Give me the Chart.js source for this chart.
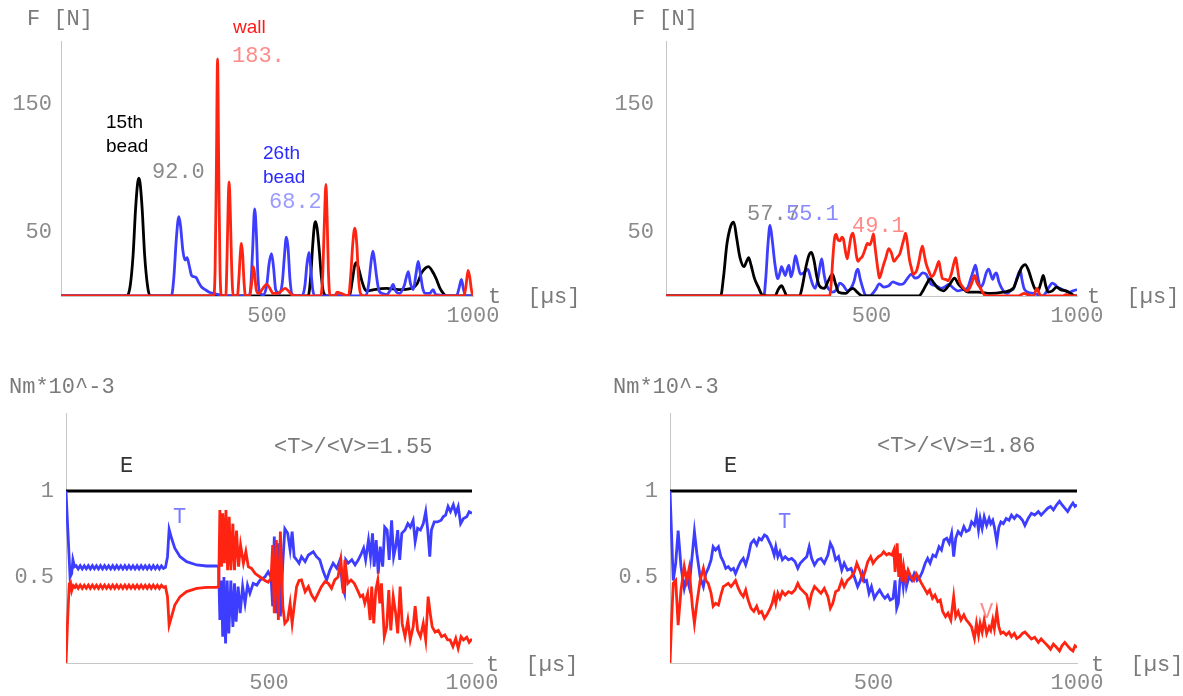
<!DOCTYPE html>
<html>
<head>
<meta charset="utf-8">
<script src="https://cdn.jsdelivr.net/npm/chart.js@4.4.1/dist/chart.umd.min.js"></script>
<style>
html, body { margin:0; padding:0; background:#fff; width:1183px; height:696px; overflow:hidden; }
canvas { position:absolute; }
</style>
</head>
<body>
<canvas id="tl" width="590" height="340" style="left:0;top:0"></canvas>
<canvas id="tr" width="593" height="340" style="left:590px;top:0"></canvas>
<canvas id="bl" width="590" height="356" style="left:0;top:340px"></canvas>
<canvas id="br" width="593" height="356" style="left:590px;top:340px"></canvas>
<script>
// tick values ==================================================================================
const tickT = [500, 1000]
const tickF = [50, 150]
const tickE = [0.5, 1]

// top left : forces, [t us, F N] ===============================================================
const wallA = [[0,0],[370,0],[374,20],[377,95],[380,185],[383,95],[386,20],[390,0],[400,0],[403,30],[406,75],[408,89],[411,65],[414,25],[418,0],[428,0],[432,15],[435,32],[438,41],[441,32],[444,12],[448,0],[458,0],[462,8],[465,18],[467,23],[470,17],[474,5],[480,2],[490,6],[499,9],[507,6],[515,2],[525,2],[535,4],[544,6],[552,4],[560,1],[575,0],[630,0],[635,15],[639,55],[643,87],[646,60],[649,20],[653,0],[665,0],[670,3],[680,2],[698,0],[703,15],[708,40],[713,53],[718,40],[722,15],[727,2],[735,0],[978,0],[983,8],[988,20],[992,15],[996,5],[1000,0]]
const bead15A = [[0,0],[160,0],[168,8],[175,32],[181,68],[186,88],[189,92],[192,88],[197,68],[203,32],[210,8],[216,0],[600,0],[606,15],[611,40],[615,55],[618,58],[622,52],[627,35],[632,15],[637,3],[645,0],[700,0],[707,12],[713,24],[717,26],[722,22],[730,12],[738,5],[745,4],[760,5],[790,6],[820,5],[850,6],[865,10],[875,18],[885,22],[892,23],[900,20],[910,14],[920,6],[928,2],[935,0],[1000,0]]
const bead26A = [[0,0],[268,0],[274,15],[280,45],[286,62],[290,55],[296,35],[301,28],[306,30],[311,24],[317,16],[323,15],[329,14],[335,10],[341,7],[350,5],[360,3],[370,2],[385,1],[400,0],[455,0],[460,5],[465,35],[470,68],[474,50],[478,15],[483,2],[492,1],[500,10],[505,25],[511,33],[516,22],[521,5],[530,2],[537,10],[542,30],[547,46],[551,38],[556,12],[562,1],[585,0],[592,8],[597,25],[602,34],[606,22],[611,5],[616,0],[740,0],[747,10],[752,25],[757,35],[761,28],[766,15],[772,4],[780,2],[790,1],[800,5],[806,9],[812,4],[822,2],[833,8],[843,19],[848,10],[855,5],[862,18],[867,27],[872,18],[878,6],[885,2],[895,2],[903,5],[910,1],[960,0],[966,6],[972,13],[977,5],[983,0],[1000,0]]

// top right : forces, [t us, F N] ==============================================================
const wallB = [[0,0],[398,0],[402,10],[406,30],[410,45],[414,48],[418,44],[423,43],[428,46],[432,44],[436,36],[441,29],[445,36],[450,46],[455,49],[460,40],[463,32],[467,27],[472,29],[478,31],[484,36],[490,41],[496,40],[501,44],[505,48.5],[508,40],[511,32],[515,22],[519,14],[523,17],[528,23],[535,30],[542,37],[548,34],[555,27],[562,30],[569,33],[575,40],[580,46],[583,49],[587,42],[592,29],[597,22],[601,17],[606,18],[610,20],[616,28],[620,35],[624,39],[628,33],[633,25],[640,19],[646,15],[652,17],[658,22],[664,27],[668,20],[673,13.5],[680,13],[687,12],[694,17],[700,25],[705,30],[709,22],[714,12],[722,7],[733,4],[740,7],[746,12],[751,16],[756,11],[765,6],[772,2],[778,0],[857,0],[864,1],[871,2],[880,1],[894,0],[898,3],[903,6],[908,2],[912,0],[965,0],[973,1],[985,0],[1000,0]]
const bead15B = [[0,0],[133,0],[140,15],[148,40],[158,55],[165,57.7],[172,45],[180,30],[190,23],[196,27],[201,30],[207,24],[215,14],[226,6],[234,1],[265,0],[273,5],[281,8],[288,4],[294,0],[325,0],[332,8],[340,22],[348,32],[354,34],[360,28],[367,15],[373,8],[385,6],[395,12],[405,17],[412,10],[420,3],[437,2],[448,5],[455,6],[465,3],[478,0],[615,0],[625,4],[635,10],[643,13.5],[652,10],[662,6],[675,4],[690,9],[702,14],[712,9],[722,6],[735,3],[760,3],[790,2],[820,3],[845,6],[855,14],[865,22],[874,24.5],[882,20],[890,12],[897,6],[905,4],[912,10],[918,16],[924,8],[930,3],[940,4],[950,7],[960,5],[973,4],[985,2],[996,0],[1000,0]]
const bead26B = [[0,0],[238,0],[243,15],[248,40],[253,55],[258,45],[265,25],[272,13.5],[277,18],[281,23],[286,19],[290,16],[295,21],[299,24],[304,15],[309,20],[315,31.5],[321,24],[327,17],[335,18],[345,21],[352,14],[358,8],[363,6],[370,14],[375,24],[379,29],[384,18],[390,9],[397,5],[405,3],[415,5],[423,10],[432,8],[441,4],[450,6],[458,12],[463,19],[467,21],[472,14],[478,7],[483,2],[487,0],[495,0],[500,1],[510,5],[519,9.5],[530,7],[542,8],[552,11],[560,10],[570,9],[579,10],[588,14],[597,17],[606,14],[615,15],[624,18],[633,17],[640,12],[646,9],[657,8],[669,6],[678,7],[688,9],[700,6],[710,4],[722,5],[733,6],[742,14],[748,20],[753,24],[758,16],[765,7],[772,10],[779,18],[785,21],[790,17],[795,13],[800,17],[804,18],[810,11],[817,6],[824,3],[831,2],[838,4],[846,6],[852,12],[857,17],[862,20],[866,13],[871,6],[880,3],[894,2],[905,1],[917,0],[925,3],[932,7],[940,10],[946,9],[952,7],[958,6],[965,5],[972,4],[981,3],[990,4],[1000,5]]

// bottom : energies, [t us, Nm*10^-3] ==========================================================
const energyE = [[0,1],[1000,1]]
const kinA = [[0,1],[5,0.75],[10,0.5],[14,0.52],[17,0.6],[21,0.56],[25,0.566],[30,0.547],[35,0.566],[40,0.547],[45,0.565],[50,0.548],[55,0.566],[60,0.547],[65,0.566],[70,0.548],[75,0.565],[80,0.547],[85,0.566],[90,0.547],[95,0.566],[100,0.548],[105,0.565],[110,0.547],[115,0.566],[120,0.547],[125,0.566],[130,0.548],[135,0.565],[140,0.547],[145,0.566],[150,0.547],[155,0.566],[160,0.548],[165,0.565],[170,0.547],[175,0.566],[180,0.547],[185,0.566],[190,0.548],[195,0.565],[200,0.547],[205,0.566],[210,0.547],[215,0.566],[220,0.548],[225,0.565],[230,0.547],[235,0.565],[240,0.55],[245,0.556],[250,0.618],[254,0.777],[260,0.725],[268,0.667],[281,0.618],[297,0.589],[322,0.57],[346,0.564],[371,0.564],[376,0.56],[379,0.25],[383,0.48],[386,0.153],[389,0.5],[393,0.114],[397,0.48],[401,0.172],[406,0.48],[411,0.21],[415,0.463],[419,0.24],[424,0.444],[429,0.29],[435,0.444],[441,0.347],[447,0.453],[453,0.405],[461,0.463],[470,0.453],[478,0.483],[490,0.5],[498,0.53],[505,0.5],[509,0.33],[513,0.735],[518,0.29],[523,0.696],[528,0.27],[534,0.58],[539,0.78],[546,0.754],[552,0.657],[557,0.764],[562,0.618],[568,0.6],[574,0.58],[580,0.618],[589,0.59],[597,0.628],[609,0.647],[617,0.618],[625,0.6],[634,0.53],[642,0.483],[650,0.54],[658,0.58],[667,0.55],[675,0.6],[681,0.444],[686,0.405],[689,0.6],[695,0.58],[704,0.6],[712,0.57],[720,0.6],[726,0.628],[733,0.667],[738,0.6],[745,0.715],[750,0.618],[755,0.754],[759,0.56],[764,0.715],[769,0.52],[774,0.676],[780,0.56],[785,0.79],[791,0.773],[796,0.6],[802,0.83],[807,0.618],[812,0.676],[817,0.773],[822,0.6],[827,0.754],[835,0.773],[842,0.81],[848,0.79],[855,0.83],[860,0.705],[866,0.783],[873,0.773],[880,0.81],[886,0.88],[891,0.773],[896,0.618],[900,0.773],[907,0.82],[915,0.82],[924,0.83],[929,0.85],[935,0.86],[941,0.91],[947,0.88],[954,0.92],[960,0.87],[966,0.91],[972,0.81],[979,0.84],[987,0.85],[993,0.88],[1000,0.87]]
const potA = [[0,0],[4,0.25],[8,0.46],[11,0.47],[14,0.42],[18,0.45],[22,0.44],[25,0.453],[30,0.434],[35,0.453],[40,0.434],[45,0.452],[50,0.435],[55,0.453],[60,0.434],[65,0.453],[70,0.435],[75,0.452],[80,0.434],[85,0.453],[90,0.434],[95,0.453],[100,0.435],[105,0.452],[110,0.434],[115,0.453],[120,0.434],[125,0.453],[130,0.435],[135,0.452],[140,0.434],[145,0.453],[150,0.434],[155,0.453],[160,0.435],[165,0.452],[170,0.434],[175,0.453],[180,0.434],[185,0.453],[190,0.435],[195,0.452],[200,0.434],[205,0.453],[210,0.434],[215,0.453],[220,0.435],[225,0.452],[230,0.434],[235,0.452],[240,0.44],[245,0.444],[250,0.386],[254,0.22],[260,0.27],[268,0.337],[281,0.386],[297,0.415],[322,0.434],[346,0.44],[371,0.44],[376,0.444],[379,0.89],[383,0.56],[386,0.87],[390,0.58],[394,0.89],[398,0.54],[402,0.85],[406,0.54],[411,0.81],[415,0.54],[420,0.77],[425,0.56],[430,0.686],[437,0.58],[443,0.647],[449,0.56],[457,0.55],[466,0.52],[478,0.5],[490,0.48],[498,0.47],[505,0.49],[509,0.686],[513,0.29],[518,0.715],[523,0.25],[528,0.764],[534,0.33],[539,0.23],[546,0.25],[552,0.347],[557,0.23],[562,0.33],[568,0.444],[574,0.48],[580,0.483],[589,0.415],[597,0.444],[605,0.395],[613,0.366],[621,0.405],[629,0.444],[638,0.473],[646,0.463],[654,0.434],[662,0.483],[670,0.5],[677,0.6],[683,0.405],[687,0.6],[694,0.463],[702,0.483],[710,0.463],[718,0.424],[725,0.386],[731,0.395],[736,0.347],[743,0.405],[749,0.25],[753,0.444],[758,0.23],[763,0.424],[768,0.483],[773,0.347],[777,0.463],[784,0.153],[790,0.21],[795,0.424],[800,0.19],[806,0.386],[812,0.29],[817,0.172],[823,0.444],[828,0.23],[835,0.153],[842,0.25],[848,0.134],[855,0.21],[860,0.33],[866,0.19],[873,0.153],[880,0.23],[886,0.134],[892,0.386],[897,0.29],[902,0.21],[909,0.18],[917,0.19],[925,0.153],[933,0.163],[940,0.134],[946,0.134],[953,0.095],[960,0.143],[966,0.085],[973,0.153],[979,0.134],[987,0.15],[993,0.12],[1000,0.14]]
const kinB = [[0,1],[8,0.48],[14,0.58],[20,0.77],[27,0.56],[35,0.434],[41,0.5],[47,0.444],[55,0.637],[60,0.764],[66,0.637],[74,0.5],[82,0.444],[88,0.52],[94,0.55],[101,0.6],[106,0.676],[112,0.657],[119,0.676],[125,0.618],[131,0.59],[137,0.55],[143,0.56],[150,0.54],[156,0.55],[161,0.52],[168,0.56],[174,0.59],[180,0.608],[186,0.57],[192,0.618],[199,0.696],[206,0.715],[213,0.686],[219,0.725],[225,0.715],[232,0.744],[238,0.735],[246,0.696],[251,0.667],[256,0.628],[260,0.676],[265,0.618],[270,0.647],[276,0.6],[283,0.618],[291,0.6],[299,0.608],[307,0.59],[314,0.55],[320,0.58],[328,0.6],[336,0.618],[342,0.676],[348,0.608],[355,0.57],[363,0.6],[371,0.608],[379,0.58],[388,0.628],[394,0.696],[400,0.667],[407,0.6],[414,0.618],[422,0.54],[428,0.58],[436,0.54],[445,0.55],[453,0.5],[461,0.444],[468,0.48],[473,0.52],[478,0.473],[483,0.48],[489,0.405],[495,0.444],[502,0.376],[509,0.405],[515,0.424],[522,0.395],[528,0.376],[535,0.395],[541,0.366],[548,0.376],[553,0.48],[557,0.318],[561,0.347],[565,0.48],[569,0.52],[573,0.444],[577,0.54],[581,0.444],[587,0.5],[594,0.48],[600,0.52],[607,0.48],[614,0.5],[620,0.53],[627,0.58],[633,0.608],[639,0.58],[646,0.628],[653,0.618],[661,0.676],[667,0.657],[673,0.715],[680,0.725],[686,0.696],[692,0.754],[697,0.618],[702,0.725],[708,0.764],[715,0.744],[722,0.793],[728,0.764],[735,0.773],[741,0.82],[748,0.8],[753,0.86],[758,0.773],[762,0.84],[767,0.783],[772,0.85],[778,0.8],[784,0.84],[788,0.81],[793,0.83],[797,0.79],[803,0.705],[808,0.79],[813,0.82],[819,0.81],[826,0.84],[833,0.83],[839,0.86],[846,0.84],[852,0.86],[859,0.85],[866,0.83],[872,0.8],[880,0.84],[888,0.87],[896,0.86],[905,0.88],[912,0.86],[920,0.88],[928,0.9],[935,0.91],[942,0.89],[950,0.92],[957,0.94],[963,0.92],[970,0.9],[977,0.88],[984,0.91],[990,0.93],[995,0.91],[1000,0.92]]
const potB = [[0,0],[4,0.25],[8,0.463],[14,0.48],[20,0.22],[27,0.424],[35,0.56],[41,0.48],[47,0.55],[55,0.33],[60,0.23],[66,0.347],[74,0.48],[82,0.55],[88,0.48],[94,0.463],[101,0.405],[106,0.33],[112,0.347],[119,0.337],[125,0.395],[131,0.444],[137,0.453],[143,0.463],[150,0.444],[156,0.463],[161,0.48],[168,0.434],[174,0.405],[180,0.386],[186,0.424],[192,0.366],[199,0.318],[206,0.3],[213,0.33],[219,0.29],[225,0.3],[232,0.26],[238,0.28],[246,0.318],[251,0.347],[256,0.395],[260,0.347],[265,0.405],[270,0.376],[276,0.415],[283,0.395],[291,0.415],[299,0.405],[307,0.424],[314,0.463],[320,0.434],[328,0.415],[336,0.395],[342,0.337],[348,0.405],[355,0.444],[363,0.424],[371,0.405],[379,0.434],[388,0.386],[394,0.318],[400,0.347],[407,0.415],[414,0.424],[422,0.48],[428,0.444],[436,0.48],[445,0.5],[453,0.53],[459,0.58],[466,0.54],[473,0.49],[479,0.53],[486,0.59],[493,0.618],[499,0.58],[505,0.6],[512,0.618],[519,0.628],[525,0.647],[532,0.628],[538,0.637],[545,0.628],[550,0.657],[553,0.53],[558,0.696],[562,0.5],[566,0.637],[570,0.473],[574,0.56],[579,0.48],[585,0.54],[592,0.5],[599,0.48],[605,0.52],[612,0.49],[618,0.463],[625,0.434],[632,0.405],[638,0.424],[645,0.376],[651,0.395],[658,0.357],[664,0.366],[670,0.3],[677,0.27],[683,0.29],[690,0.25],[697,0.386],[702,0.27],[708,0.3],[715,0.25],[722,0.28],[728,0.25],[735,0.23],[741,0.21],[748,0.143],[753,0.23],[758,0.163],[762,0.23],[767,0.18],[772,0.25],[778,0.172],[784,0.21],[788,0.19],[793,0.25],[797,0.2],[803,0.3],[808,0.21],[813,0.172],[819,0.18],[826,0.163],[833,0.18],[839,0.153],[846,0.172],[852,0.143],[859,0.153],[866,0.172],[872,0.18],[880,0.16],[888,0.14],[896,0.15],[905,0.12],[912,0.14],[920,0.12],[928,0.1],[935,0.08],[942,0.11],[950,0.09],[957,0.07],[963,0.1],[970,0.12],[977,0.1],[984,0.08],[990,0.07],[995,0.1],[1000,0.09]]

// styles =======================================================================================
const MONO = '"Liberation Mono", "Courier New", monospace'
const SANS = '"Liberation Sans", Arial, sans-serif'
const RED = '#ff2412', BLUE = '#3d3dff', BLACK = '#000'
const mono = `22px ${MONO}`, sans = `19px ${SANS}`

// text drawn on top of each panel
const notes = list => ({
	id: 'notes',
	afterDraw: c => {
		const x = c.ctx
		x.save()
		x.textAlign = 'left'
		x.textBaseline = 'alphabetic'
		list.forEach(n => {
			x.font = n.f || mono
			x.fillStyle = n.c
			x.fillText(n.t, n.x, n.y)
		})
		x.restore()
	}
})

const panel = (id, fr, yMax, yTicks, sets, smooth, labels) => {
	const cv = document.getElementById(id)
	return new Chart(cv, {
		type: 'line',
		data: {
			datasets: sets.map(([d, col]) => ({
				data: d.map(([x, y]) => ({x, y})),
				borderColor: col,
				borderWidth: 2.8,
				pointRadius: 0,
				fill: false,
				cubicInterpolationMode: smooth ? 'monotone' : 'default',
				tension: 0,
			}))
		},
		options: {
			responsive: false,
			animation: false,
			devicePixelRatio: 1,
			layout: { padding: { left: 0, top: fr.top, right: cv.width - fr.right, bottom: 0 } },
			plugins: { legend: { display: false }, tooltip: { enabled: false } },
			scales: {
				x: {
					type: 'linear', min: 0, max: 1000,
					grid: { display: false, drawTicks: false },
					border: { display: true, color: '#c6c6c6', width: 1 },
					ticks: { padding: 7, color: '#8a8a8a', font: { family: MONO, size: 22 }, autoSkip: false, maxRotation: 0, callback: v => String(v) },
					afterBuildTicks: s => { s.ticks = tickT.map(v => ({value: v})) },
					afterFit: s => { s.height = cv.height - fr.bottom },
				},
				y: {
					type: 'linear', min: 0, max: yMax,
					grid: { display: false, drawTicks: false },
					border: { display: true, color: '#c6c6c6', width: 1 },
					ticks: { padding: fr.pad, color: '#8a8a8a', font: { family: MONO, size: 22 }, autoSkip: false, callback: v => String(v) },
					afterBuildTicks: s => { s.ticks = yTicks.map(v => ({value: v})) },
					afterFit: s => { s.width = fr.left },
				}
			}
		},
		plugins: [notes(labels)]
	})
}

panel('tl', {left: 61, right: 473, top: 41, bottom: 296, pad: 9}, 199, tickF,
	[[wallA, RED], [bead26A, BLUE], [bead15A, BLACK]], true, [
	{t: 'F [N]', x: 27, y: 25, c: '#7a7a7a'},
	{t: 'wall', x: 233, y: 33, c: '#ff1a1a', f: sans},
	{t: '183.', x: 232, y: 62, c: '#ff8a8a'},
	{t: '15th', x: 106, y: 128, c: '#000', f: sans},
	{t: 'bead', x: 106, y: 152, c: '#000', f: sans},
	{t: '92.0', x: 152, y: 178, c: '#8a8a8a'},
	{t: '26th', x: 263, y: 159, c: '#2a2aff', f: sans},
	{t: 'bead', x: 263, y: 183, c: '#2a2aff', f: sans},
	{t: '68.2', x: 269, y: 208, c: '#9a9aff'},
	{t: 't  [µs]', x: 488, y: 303, c: '#7a7a7a'},
])

panel('tr', {left: 76, right: 487, top: 41, bottom: 296, pad: 12}, 199, tickF,
	[[wallB, RED], [bead15B, BLACK], [bead26B, BLUE]], true, [
	{t: 'F [N]', x: 42, y: 25, c: '#7a7a7a'},
	{t: '57.7', x: 157, y: 220, c: '#8a8a8a'},
	{t: '55.1', x: 196, y: 220, c: '#8a8aff'},
	{t: '49.1', x: 262, y: 232, c: '#ff8a8a'},
	{t: 't  [µs]', x: 497, y: 303, c: '#7a7a7a'},
])

panel('bl', {left: 66, right: 472, top: 73, bottom: 323, pad: 12}, 1.4535, tickE,
	[[potA, RED], [kinA, BLUE], [energyE, BLACK]], false, [
	{t: 'Nm*10^-3', x: 9, y: 53, c: '#7a7a7a'},
	{t: 'E', x: 120, y: 132, c: '#333'},
	{t: '<T>/<V>=1.55', x: 274, y: 113, c: '#7a7a7a'},
	{t: 'T', x: 173, y: 183, c: '#7a7aff'},
	{t: 't  [µs]', x: 486, y: 331, c: '#7a7a7a'},
])

panel('br', {left: 80, right: 487, top: 73, bottom: 323, pad: 12}, 1.4535, tickE,
	[[potB, RED], [kinB, BLUE], [energyE, BLACK]], false, [
	{t: 'Nm*10^-3', x: 23, y: 53, c: '#7a7a7a'},
	{t: 'E', x: 134, y: 132, c: '#333'},
	{t: '<T>/<V>=1.86', x: 287, y: 112, c: '#7a7a7a'},
	{t: 'T', x: 188, y: 188, c: '#7a7aff'},
	{t: 'V', x: 390, y: 278, c: '#ff8a8a'},
	{t: 't  [µs]', x: 501, y: 331, c: '#7a7a7a'},
])
</script>
</body>
</html>
